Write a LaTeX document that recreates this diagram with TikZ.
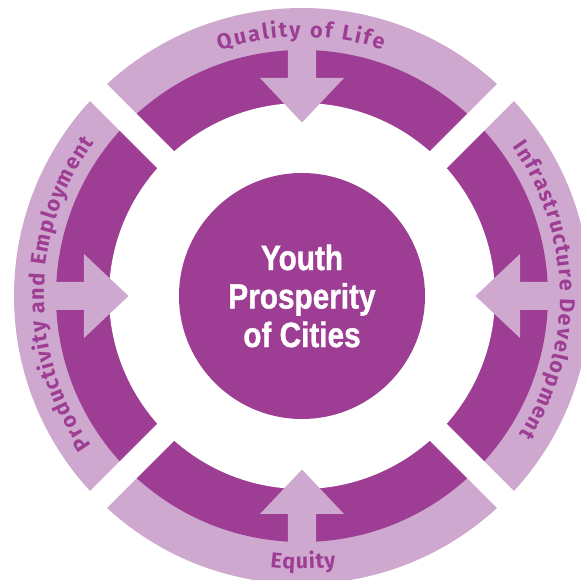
\documentclass[tikz,border=0pt]{standalone}
\usepackage{fontspec}
\setmainfont{Liberation Sans}
\newfontfamily\ringfont{Fira Sans}
\usetikzlibrary{decorations.text}
\definecolor{dark}{HTML}{9D3D93}
\definecolor{light}{HTML}{CFA8CF}
\newcommand\ringtextfont{\ringfont\bfseries\fontsize{21.5}{21.5}\selectfont}
\begin{document}
\begin{tikzpicture}[x=1pt,y=1pt,
  ringtext/.style={decorate, decoration={text along path, text align={fit to path}, text color=dark, text={|\ringtextfont|#1}}},
  gapstrip/.style={fill=white},
  arrowshape/.style={fill=light}]
\useasboundingbox (-302,-284) rectangle (279,296);
\clip (-302,-284) rectangle (279,296);
% ring
\fill[light] (0,0) circle[radius=288];
\fill[dark] (0,0) circle[radius=246];
\fill[white] (0,0) circle[radius=193];
% gaps
\foreach \a in {45,135,225,315}
  \fill[gapstrip, rotate=\a] (140,-12) rectangle (300,12);
% arrows
\foreach \a in {90,0,-90,180}
  \fill[arrowshape, rotate=\a] (250,14) -- (218,14) -- (218,42) -- (173.5,0) -- (218,-42) -- (218,-14) -- (250,-14) -- cycle;
% ring labels
\path[ringtext={Quality of Life}] (108.6:259) arc[start angle=108.6, end angle=71.9, radius=259];
\path[ringtext={Infrastructure Development}] (35.3:258) arc[start angle=35.3, end angle=-32.5, radius=258];
\path[ringtext={Productivity and Employment}] (215.3:258) arc[start angle=215.3, end angle=143.5, radius=258];
\path[ringtext={Equity}] (263.3:273) arc[start angle=263.3, end angle=277.2, radius=273];
% hub
\node[circle, fill=dark, minimum size=246, inner sep=0] (hub) at (0,0) {};
\node[text=white, align=center, font=\bfseries\addfontfeature{FakeBold=1.2}\fontsize{35}{38.5}\selectfont, xscale=0.85, transform shape] (title) at (hub.center) {Youth\\Prosperity\\of Cities};
\end{tikzpicture}
\end{document}
